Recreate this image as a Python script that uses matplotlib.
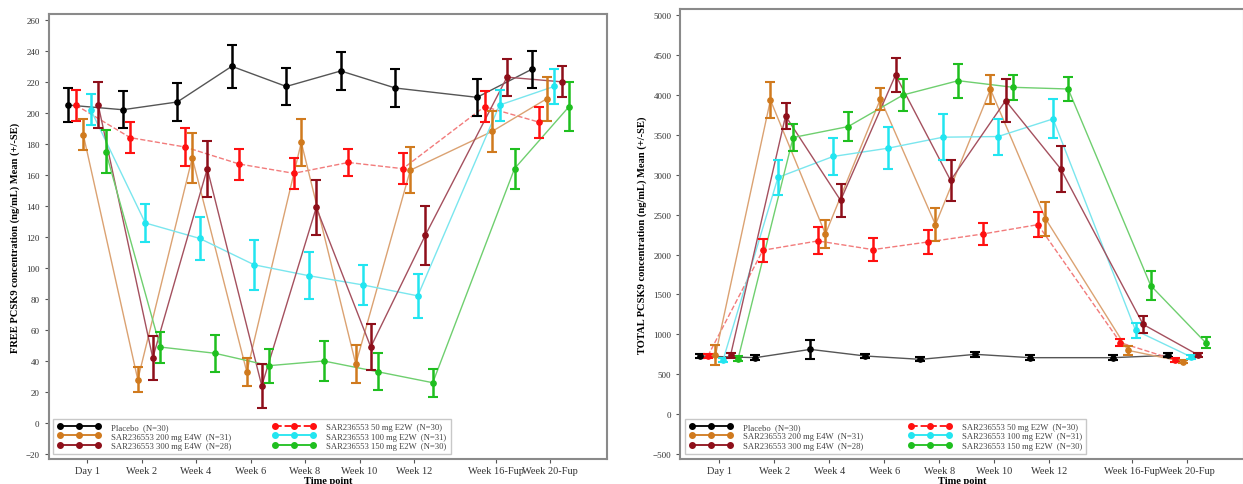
import numpy as np
import matplotlib
matplotlib.use("Agg")
import matplotlib.pyplot as plt
from matplotlib.lines import Line2D

plt.rcParams['font.family'] = ['Liberation Serif', 'DejaVu Serif']

# -----------------------------
# Data
# -----------------------------
time_labels = ["Day 1", "Week 2", "Week 4", "Week 6", "Week 8", "Week 10", "Week 12",
               "Week 16-Fup", "Week 20-Fup"]
time_pos = [0, 2, 4, 6, 8, 10, 12, 15, 17]

groups = ["Placebo  (N=30)", "SAR236553 50 mg E2W  (N=30)", "SAR236553 200 mg E4W  (N=31)",
          "SAR236553 100 mg E2W  (N=31)", "SAR236553 300 mg E4W  (N=28)", "SAR236553 150 mg E2W  (N=30)"]
marker_colors = ["#000000", "#ff1010", "#d07a1e", "#22e5f0", "#8e0f1a", "#1fbf1f"]
line_colors = ["#555555", "#f27b7b", "#dba272", "#7ae6ee", "#a4505e", "#6fcf6f"]
line_styles = ["-", "--", "-", "-", "-", "-"]

# FREE PCSK9 (ng/mL), mean and SE
free_placebo = [205, 202, 207, 230, 217, 227, 216, 210, 228]
free_placebo_se = [11, 12, 12, 14, 12, 12, 12, 12, 12]
free_50 = [205, 184, 178, 167, 161, 168, 164, 204, 194]
free_50_se = [10, 10, 12, 10, 10, 9, 10, 10, 10]
free_200 = [186, 28, 171, 33, 181, 38, 163, 188, 209]
free_200_se = [10, 8, 16, 9, 15, 12, 15, 13, 14]
free_100 = [202, 129, 119, 102, 95, 89, 82, 205, 217]
free_100_se = [10, 12, 14, 16, 15, 13, 14, 10, 11]
free_300 = [205, 42, 164, 24, 139, 49, 121, 223, 220]
free_300_se = [15, 14, 18, 14, 18, 15, 19, 12, 10]
free_150 = [175, 49, 45, 37, 40, 33, 26, 164, 204]
free_150_se = [14, 10, 12, 11, 13, 12, 9, 13, 16]

# TOTAL PCSK9 (ng/mL), mean and SE
total_placebo = [729, 708, 812, 729, 687, 750, 708, 708, 737]
total_placebo_se = [30, 35, 115, 25, 25, 30, 30, 35, 25]
total_50 = [729, 2054, 2171, 2062, 2158, 2258, 2375, 896, 679]
total_50_se = [25, 145, 170, 143, 150, 142, 160, 45, 25]
total_200 = [737, 3937, 2258, 3950, 2375, 4071, 2450, 800, 658]
total_200_se = [125, 225, 180, 140, 210, 180, 212, 55, 20]
total_100 = [675, 2967, 3229, 3333, 3471, 3479, 3700, 1050, 721]
total_100_se = [25, 220, 230, 265, 290, 225, 245, 95, 25]
total_300 = [737, 3737, 2679, 4250, 2929, 3929, 3075, 1125, 742]
total_300_se = [35, 167, 205, 216, 260, 265, 290, 105, 30]
total_150 = [696, 3467, 3604, 4000, 4179, 4096, 4075, 1612, 896]
total_150_se = [30, 170, 180, 200, 212, 155, 150, 183, 68]

free_means = [free_placebo, free_50, free_200, free_100, free_300, free_150]
free_ses = [free_placebo_se, free_50_se, free_200_se, free_100_se, free_300_se, free_150_se]
total_means = [total_placebo, total_50, total_200, total_100, total_300, total_150]
total_ses = [total_placebo_se, total_50_se, total_200_se, total_100_se, total_300_se, total_150_se]

# -----------------------------
# Plot
# -----------------------------
fig = plt.figure(figsize=(12.43, 4.85), dpi=100)
ax1 = fig.add_axes([0.0391, 0.0515, 0.4492, 0.9175])
ax2 = fig.add_axes([0.5474, 0.0515, 0.4534, 0.9275])

x = np.array(time_pos, dtype=float)
dodge = 0.275


def draw_panel(ax, means, ses, ylim, yticks, ylabel):
    for i in range(len(groups)):
        xs = x + dodge * (i - 2.5)
        ax.plot(xs, means[i], color=line_colors[i], linestyle=line_styles[i], lw=1.0, zorder=2)
        ax.errorbar(xs, means[i], yerr=ses[i], fmt="o", color=marker_colors[i], ms=3.8,
                    elinewidth=1.8, capsize=3.5, capthick=1.5, zorder=3)
    ax.set_xlim(-1.41, 19.08)
    ax.set_ylim(*ylim)
    ax.set_xticks(time_pos)
    ax.set_xticklabels(time_labels, fontsize=7.5, color="#333333")
    ax.set_yticks(yticks)
    ax.tick_params(axis="y", labelsize=6.5, colors="#555555", labelcolor="#333333", length=3)
    ax.tick_params(axis="x", colors="#555555", labelcolor="#333333", length=3, pad=2)
    ax.set_ylabel(ylabel, fontsize=7.6, fontweight="bold", labelpad=4)
    ax.set_xlabel("Time point", fontsize=7.5, fontweight="bold", labelpad=0.5)
    for s in ax.spines.values():
        s.set_color("#8a8a8a")
        s.set_linewidth(1.5)

    handles = []
    for i in [0, 2, 4, 1, 3, 5]:
        handles.append(Line2D([0], [0], color=marker_colors[i], linestyle=line_styles[i], lw=1.3,
                              marker="o", ms=4, label=groups[i]))
    leg = ax.legend(handles=handles, ncol=2, numpoints=3, fontsize=6.2, loc="lower left",
                    bbox_to_anchor=(0.008, 0.011, 0.712, 0.113), mode="expand",
                    borderaxespad=0, frameon=True, fancybox=False, handlelength=5,
                    labelspacing=0.15, handletextpad=1.2, columnspacing=2.0, borderpad=0.5)
    leg.get_frame().set_edgecolor("#bbbbbb")
    leg.get_frame().set_linewidth(1.0)
    for t in leg.get_texts():
        t.set_color("#444444")


draw_panel(ax1, free_means, free_ses, (-23.2, 263.7), np.arange(-20, 261, 20),
           "FREE PCSK9 concentration (ng/mL) Mean (+/-SE)")
draw_panel(ax2, total_means, total_ses, (-562, 5075), np.arange(-500, 5001, 500),
           "TOTAL PCSK9 concentration (ng/mL) Mean (+/-SE)")

fig.savefig("out.png", dpi=100)
